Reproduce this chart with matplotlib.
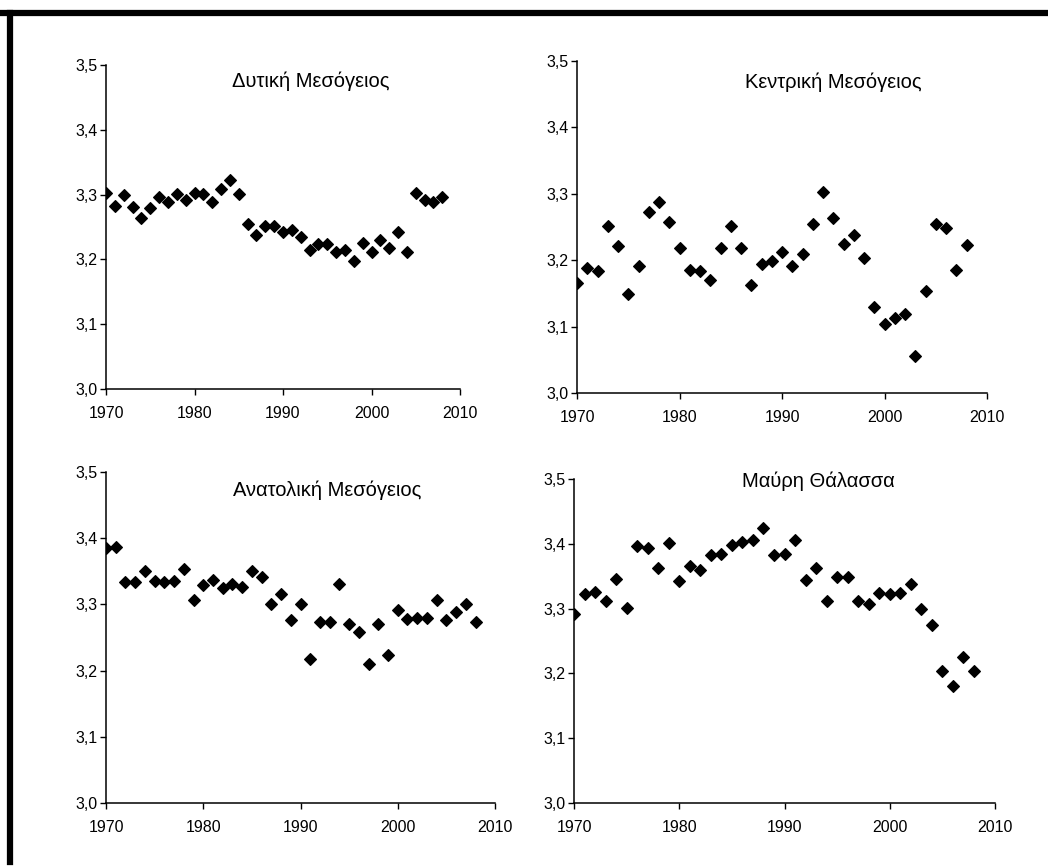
import numpy as np
import matplotlib.pyplot as plt
from matplotlib.lines import Line2D
from matplotlib.ticker import FuncFormatter

# Annual values per basin, 1970-2008
years = np.arange(1970, 2009)

west_med = [3.302, 3.283, 3.300, 3.281, 3.264, 3.279, 3.297, 3.289, 3.301, 3.292,
            3.303, 3.301, 3.288, 3.308, 3.323, 3.301, 3.255, 3.237, 3.251, 3.251,
            3.243, 3.246, 3.234, 3.215, 3.223, 3.223, 3.212, 3.215, 3.198, 3.225,
            3.212, 3.230, 3.217, 3.242, 3.211, 3.303, 3.292, 3.289, 3.296]

central_med = [3.165, 3.188, 3.183, 3.251, 3.222, 3.149, 3.191, 3.272, 3.288, 3.257,
               3.218, 3.185, 3.183, 3.170, 3.218, 3.251, 3.218, 3.163, 3.194, 3.199,
               3.213, 3.191, 3.209, 3.254, 3.303, 3.263, 3.225, 3.238, 3.203, 3.129,
               3.104, 3.113, 3.119, 3.055, 3.153, 3.254, 3.248, 3.185, 3.223]

east_med = [3.385, 3.386, 3.334, 3.334, 3.351, 3.336, 3.334, 3.336, 3.354, 3.307,
            3.329, 3.337, 3.325, 3.331, 3.327, 3.351, 3.342, 3.301, 3.315, 3.277,
            3.301, 3.217, 3.273, 3.273, 3.331, 3.270, 3.258, 3.210, 3.270, 3.223,
            3.292, 3.278, 3.279, 3.279, 3.307, 3.277, 3.289, 3.301, 3.273]

black_sea = [3.291, 3.322, 3.325, 3.311, 3.346, 3.301, 3.396, 3.393, 3.362, 3.401,
             3.342, 3.365, 3.360, 3.383, 3.385, 3.398, 3.403, 3.406, 3.425, 3.382,
             3.384, 3.406, 3.344, 3.363, 3.312, 3.349, 3.348, 3.312, 3.307, 3.324,
             3.322, 3.324, 3.338, 3.300, 3.275, 3.204, 3.180, 3.226, 3.204]

titles = ["Δυτική Μεσόγειος", "Κεντρική Μεσόγειος",
          "Ανατολική Μεσόγειος", "Μαύρη Θάλασσα"]
series = [west_med, central_med, east_med, black_sea]

W, H = 1048, 867

# axes boxes in pixels: left, right, top(3.5), bottom(3.0)
boxes = [(106, 460, 65, 389), (577, 987, 61, 393),
         (106, 495, 472, 803), (574, 995, 479, 803)]
# title centre x and baseline y in pixels
title_pos = [(311, 87), (833, 88), (327, 496), (818, 487)]

tick_font = ['Liberation Sans Narrow', 'DejaVu Sans Condensed', 'Liberation Sans']
comma = FuncFormatter(lambda v, pos: f"{v:.1f}".replace(".", ","))

fig = plt.figure(figsize=(W / 100, H / 100), dpi=100)
fig.patch.set_facecolor('white')

for (l, r, t, b), vals, title, (tx, ty) in zip(boxes, series, titles, title_pos):
    ax = fig.add_axes([l / W, 1 - b / H, (r - l) / W, (b - t) / H])
    ax.plot(years, vals, linestyle='none', marker='D', ms=6.3,
            color='black', mec='black', mew=0.8)
    ax.set_xlim(1970, 2010)
    ax.set_ylim(3.0, 3.5)
    ax.set_xticks([1970, 1980, 1990, 2000, 2010])
    ax.set_yticks([3.0, 3.1, 3.2, 3.3, 3.4, 3.5])
    ax.yaxis.set_major_formatter(comma)
    for side in ('top', 'right'):
        ax.spines[side].set_visible(False)
    for side in ('left', 'bottom'):
        ax.spines[side].set_linewidth(1.1)
    ax.tick_params(direction='out', length=4, width=1.0)
    ax.tick_params(axis='x', pad=8)
    ax.tick_params(axis='y', pad=2)
    for lab in ax.get_xticklabels() + ax.get_yticklabels():
        lab.set_family(tick_font)
        lab.set_fontsize(11.5)
    ax.patch.set_alpha(0)
    fig.text(tx / W, 1 - ty / H, title, ha='center', va='baseline',
             fontsize=14.5, family=['Liberation Sans', 'DejaVu Sans'])

# heavy frame along the top and left edges
fig.add_artist(Line2D([0, 1], [1 - 13 / H, 1 - 13 / H], color='black',
                      lw=4.5, transform=fig.transFigure))
fig.add_artist(Line2D([10 / W, 10 / W], [0.006, 1 - 13 / H], color='black',
                      lw=4.5, transform=fig.transFigure))

fig.savefig('out.png', dpi=100)
